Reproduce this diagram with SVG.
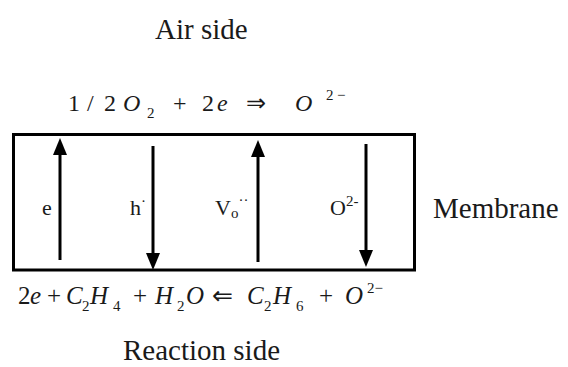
<svg xmlns="http://www.w3.org/2000/svg" width="568" height="367" viewBox="0 0 568 367">
<style>
.t{font-family:"Liberation Serif","Times New Roman",serif;fill:#1a1a1a}
.i{font-style:italic}
.big{font-size:29px}
.eq{font-size:24px}
.eq2{font-size:25px}
.lb{font-size:22px}
.sm{font-size:15px}
.box{fill:none;stroke:#000;stroke-width:3}
.ar{stroke:#000;stroke-width:3;fill:none;marker-end:url(#ah)}
</style>
<defs>
<marker id="ah" markerUnits="userSpaceOnUse" markerWidth="17" markerHeight="14" refX="4" refY="7" orient="auto">
<path d="M0,0 L17,7 L0,14 z" fill="#000"/>
</marker>
</defs>
<rect width="568" height="367" fill="#fff"/>
<g id="air-side"><text class="t big" x="155" y="39">Air side</text></g>
<g id="air-equation" class="t eq">
<text x="68" y="111">1</text>
<text x="87" y="111">/</text>
<text x="104" y="111">2</text>
<text class="i" x="123" y="111">O</text>
<text class="sm" x="147" y="118">2</text>
<text x="173" y="111">+</text>
<text x="202" y="111">2</text>
<text class="i" x="217" y="111">e</text>
<text x="246" y="111">⇒</text>
<text class="i" x="295" y="111">O</text>
<text class="sm" x="326" y="100">2</text>
<text class="sm" x="337" y="100">−</text>
</g>
<g id="membrane">
<rect class="box" x="13.5" y="134.5" width="401" height="135.5"/>
<text class="t big" x="433" y="218">Membrane</text>
</g>
<g id="label-e"><text class="t lb" x="42" y="215">e</text></g>
<g id="label-h"><text class="t lb" x="130" y="215">h<tspan class="sm" dy="-9">·</tspan></text></g>
<g id="label-v"><text class="t lb" x="215" y="215">V<tspan class="sm" dy="3">o</tspan><tspan class="sm" dy="-13">··</tspan></text></g>
<g id="label-o"><text class="t lb" x="330" y="215">O<tspan class="sm" dy="-9">2-</tspan></text></g>
<g id="connectors">
<line class="ar" x1="60" y1="260" x2="60" y2="151"/>
<line class="ar" x1="153" y1="146" x2="153" y2="257"/>
<line class="ar" x1="258" y1="262" x2="258" y2="153"/>
<line class="ar" x1="366" y1="144" x2="366" y2="254"/>
</g>
<g id="reaction-equation" class="t eq2">
<text x="18" y="304">2</text>
<text class="i" x="30" y="304">e</text>
<text x="47" y="304">+</text>
<text class="i" x="66" y="304">C</text>
<text class="sm" x="82" y="311">2</text>
<text class="i" x="90" y="304">H</text>
<text class="sm" x="113" y="311">4</text>
<text x="133" y="304">+</text>
<text class="i" x="155" y="304">H</text>
<text class="sm" x="177" y="311">2</text>
<text class="i" x="186" y="304">O</text>
<text x="212" y="304">⇐</text>
<text class="i" x="247" y="304">C</text>
<text class="sm" x="264" y="311">2</text>
<text class="i" x="273" y="304">H</text>
<text class="sm" x="296" y="311">6</text>
<text x="319" y="304">+</text>
<text class="i" x="345" y="304">O</text>
<text class="sm" x="367" y="293">2−</text>
</g>
<g id="reaction-side"><text class="t big" x="123" y="360">Reaction side</text></g>
</svg>
